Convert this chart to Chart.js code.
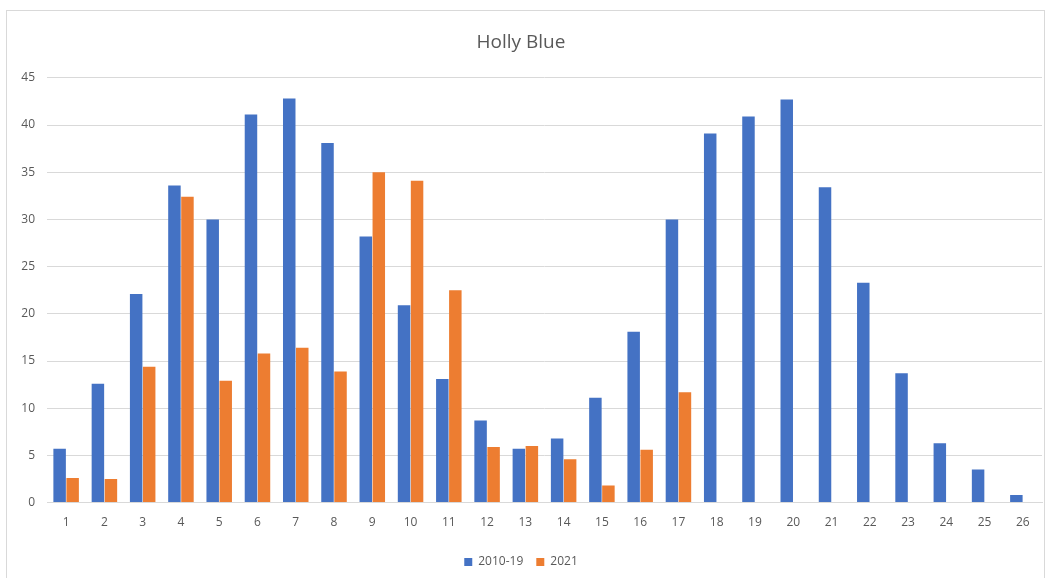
<!DOCTYPE html>
<html>
<head>
<meta charset="utf-8">
<script src="https://cdn.jsdelivr.net/npm/chart.js@4/dist/chart.umd.min.js"></script>
<style>
  html, body { margin: 0; padding: 0; background: #fff; }
  body { width: 1051px; height: 578px; position: relative; overflow: hidden; }
  #frame { position: absolute; left: 6px; top: 10px; width: 1039px; height: 600px; border: 1px solid #d9d9d9; box-sizing: border-box; }
  #wrap { position: absolute; left: 0; top: 0; width: 1051px; height: 578px; }
</style>
</head>
<body>
<div id="frame"></div>
<div id="wrap"><canvas id="myChart" width="1051" height="578"></canvas></div>
<script>
const labels = ["1","2","3","4","5","6","7","8","9","10","11","12","13","14","15","16","17","18","19","20","21","22","23","24","25","26"];
const decade = [5.7, 12.6, 22.1, 33.6, 30.0, 41.1, 42.8, 38.1, 28.2, 20.9, 13.1, 8.7, 5.7, 6.8, 11.1, 18.1, 30.0, 39.1, 40.9, 42.7, 33.4, 23.3, 13.7, 6.3, 3.5, 0.8];
const y2021 = [2.6, 2.5, 14.4, 32.4, 12.9, 15.8, 16.4, 13.9, 35.0, 34.1, 22.5, 5.9, 6.0, 4.6, 1.8, 5.6, 11.7, null, null, null, null, null, null, null, null, null];
const yTicks = [0, 5, 10, 15, 20, 25, 30, 35, 40, 45];

const ctx = document.getElementById("myChart").getContext("2d");
new Chart(ctx, {
  type: "bar",
  data: {
    labels: labels,
    datasets: [
      { label: "2010-19", data: decade, backgroundColor: "#4472c4", categoryPercentage: 0.68, barPercentage: 0.96 },
      { label: "2021", data: y2021, backgroundColor: "#ed7d31", categoryPercentage: 0.68, barPercentage: 0.96 },
    ],
  },
  options: {
    responsive: false,
    animation: false,
    devicePixelRatio: 1,
    layout: { padding: { left: 0, right: 9, top: 0, bottom: 0 } },
    plugins: {
      title: {
        display: true,
        text: "Holly Blue",
        color: "#595959",
        font: { family: "Open Sans", size: 19, weight: "normal" },
        padding: { top: 31, bottom: 24 },
      },
      legend: {
        position: "bottom",
        labels: {
          color: "#595959",
          font: { family: "Open Sans", size: 12 },
          boxWidth: 8,
          boxHeight: 8,
          padding: 13,
        },
      },
      tooltip: { enabled: false },
    },
    scales: {
      x: {
        grid: { display: false, drawTicks: false },
        border: { color: "#d9d9d9" },
        ticks: { color: "#595959", font: { family: "Open Sans", size: 12 }, padding: 13, maxRotation: 0, autoSkip: false },
      },
      y: {
        min: 0,
        max: 45,
        afterBuildTicks: (scale) => { scale.ticks = yTicks.map((v) => ({ value: v })); },
        afterFit: (scale) => { scale.width = 47; },
        grid: { color: "#d9d9d9", drawTicks: false },
        border: { display: false },
        ticks: { color: "#595959", font: { family: "Open Sans", size: 12 }, padding: 12 },
      },
    },
  },
});
</script>
</body>
</html>
